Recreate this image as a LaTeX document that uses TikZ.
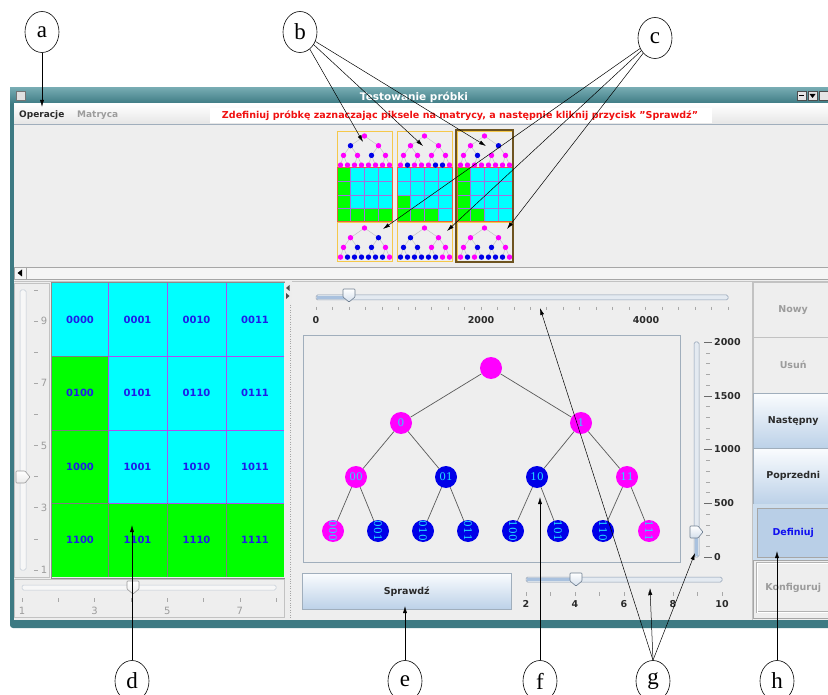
\documentclass[tikz,border=0pt]{standalone}
\usepackage{fontspec}
\setmainfont{DejaVu Sans}
\newfontfamily\letterfont{Liberation Serif}
\newfontfamily\treefont{DejaVu Serif}
\usetikzlibrary{shapes.geometric,arrows.meta}

\definecolor{winteal}{HTML}{3D7A83}
\definecolor{winteallt}{HTML}{75AAB1}
\definecolor{panelbg}{HTML}{EEEEEE}
\definecolor{cy}{HTML}{00FFFF}
\definecolor{gg}{HTML}{00FF00}
\definecolor{gridpurple}{HTML}{B04CF0}
\definecolor{gridgrey}{HTML}{7E7E7E}
\definecolor{celltext}{HTML}{1E1EE8}
\definecolor{mg}{HTML}{FF00FF}
\definecolor{bl}{HTML}{0000E8}
\definecolor{nodetext}{HTML}{22DDFF}
\definecolor{edgegrey}{HTML}{5A5A5A}
\definecolor{miniedgec}{HTML}{C4C4C4}
\definecolor{thumbyellow}{HTML}{F5C84A}
\definecolor{thumbred}{HTML}{E8603C}
\definecolor{thumbsel}{HTML}{6E5420}
\definecolor{thumbline}{HTML}{A070E0}
\definecolor{trackfill}{HTML}{E4EAF1}
\definecolor{trackdraw}{HTML}{8C9CB0}
\definecolor{trackblue}{HTML}{A9C1DE}
\definecolor{frameblue}{HTML}{A0AEBC}
\definecolor{btntop}{HTML}{FAFCFE}
\definecolor{btnbot}{HTML}{BCD1E8}
\definecolor{btnsel}{HTML}{B9CFE7}
\definecolor{btnselbg}{HTML}{CCDDEE}
\definecolor{greytext}{HTML}{9C9C9C}
\definecolor{darktext}{HTML}{2A2A2A}
\definecolor{deftext}{HTML}{1010F0}
\definecolor{menured}{HTML}{F01010}
\definecolor{tickc}{HTML}{A8A8A8}
\definecolor{knobdraw}{HTML}{6E7E90}
\definecolor{knobbot}{HTML}{D4DFEC}
\definecolor{sepgrey}{HTML}{C2C2C2}

\tikzset{
  letter/.style={ellipse, draw, line width=0.6pt, minimum width=34pt, minimum height=41pt,
    inner sep=0pt, fill=white, font=\letterfont\fontsize{23}{23}\selectfont},
  callout/.style={line width=0.5pt, -{Latex[length=7pt,width=4pt]}},
  celllab/.style={font=\bfseries\fontsize{10}{10}\selectfont, text=celltext},
  tnode/.style={circle, minimum size=22pt, inner sep=0pt, text=nodetext,
    font=\treefont\fontsize{10.5}{10.5}\selectfont},
  leaf/.style={tnode, rotate=-90},
  tedge/.style={edgegrey, line width=0.7pt},
  miniedge/.style={draw=miniedgec, line width=0.5pt},
  ticklab/.style={font=\bfseries\fontsize{9.5}{9.5}\selectfont, text=darktext, inner sep=0pt},
  offlab/.style={font=\fontsize{10}{10}\selectfont, text=greytext, inner sep=0pt},
  tickmark/.style={draw=tickc, line width=0.5pt},
  track/.style={draw=trackdraw, fill=trackfill, line width=0.5pt, rounded corners=1.5pt},
  knob/.style={draw=knobdraw, line width=0.6pt, top color=white, bottom color=knobbot,
    rounded corners=0.8pt},
  btnlab/.style={font=\bfseries\fontsize{9.5}{9.5}\selectfont, inner sep=0pt},
  plainbtn/.style={draw=sepgrey, fill=panelbg, anchor=north west, minimum width=80pt,
    text=greytext, btnlab},
  bluebtn/.style={draw=frameblue, top color=btntop, bottom color=btnbot, anchor=north west,
    minimum width=80pt, text=darktext, btnlab},
}

% small binary tree of the sample previews
\newcommand\minitree[6]{%
  \foreach \i in {0,1}
    \draw[miniedge] ({#1+27.5},{#2}) -- ({#1+13.5+28*\i},{#2+9.7});
  \foreach \i in {0,...,3}
    \draw[miniedge] ({#1+13.5+28*floor(\i/2)},{#2+9.7}) -- ({#1+6.5+14*\i},{#2+19.4});
  \foreach \i in {0,...,7}
    \draw[miniedge] ({#1+6.5+14*floor(\i/2)},{#2+19.4}) -- ({#1+3.5+7*\i},{#2+29.1});
  \fill[#3] ({#1+27.5},{#2}) circle (2.7pt);
  \foreach \cc [count=\i from 0] in {#4}
    \fill[\cc] ({#1+13.5+28*\i},{#2+9.7}) circle (2.7pt);
  \foreach \cc [count=\i from 0] in {#5}
    \fill[\cc] ({#1+6.5+14*\i},{#2+19.4}) circle (2.7pt);
  \foreach \cc [count=\i from 0] in {#6}
    \fill[\cc] ({#1+3.5+7*\i},{#2+29.1}) circle (2.7pt);
}

% one sample preview: frames and the 4x4 pixel matrix
\newcommand\thumbnail[2]{%
  \draw[thumbyellow, line width=0.8pt] (#1,131) rectangle ({#1+55},168);
  \draw[thumbyellow, line width=0.8pt] (#1,222) rectangle ({#1+55},261);
  \foreach \cc [count=\k from 0] in {#2} {
    \pgfmathtruncatemacro\rw{\k/4}
    \pgfmathtruncatemacro\cl{\k-4*\rw}
    \fill[\cc] ({#1+13.75*\cl},{168+13.5*\rw}) rectangle ++(13.75,13.5);
  }
  \foreach \i in {1,2,3} {
    \draw[thumbline, line width=0.9pt] ({#1+13.75*\i},168) -- ({#1+13.75*\i},222);
    \draw[thumbline, line width=0.9pt] (#1,{168+13.5*\i}) -- ({#1+55},{168+13.5*\i});
  }
  \draw[thumbred, line width=1pt] (#1,168) rectangle ({#1+55},222);
}

\begin{document}
\begin{tikzpicture}[x=1pt,y=-1pt]
\useasboundingbox[fill=white] (0,0) rectangle (828,695);

% ---------- window frame, title bar, menu ----------
\fill[winteal, rounded corners=3pt] (10,88) rectangle (840,628);
\fill[top color=winteallt, bottom color=winteal] (10,88) rectangle (828,104);
\fill[panelbg] (14,104) rectangle (828,620);
\draw[fill=black!12, draw=black!55] (16,91) rectangle (25,100);
\node[text=white, font=\bfseries\fontsize{10.5}{10.5}\selectfont, inner sep=0pt] (title) at (414,97) {Testowanie próbki};
\foreach \xx in {797,808,819}
  \draw[fill=white!90!black, draw=black!70] (\xx,91) rectangle ++(9,9);
\fill[black] (799,95) rectangle (804,96.5);
\fill[black] (809.5,94) -- (815.5,94) -- (812.5,98) -- cycle;

\fill[top color=white, bottom color=black!10] (14,104) rectangle (828,124);
\node[anchor=west, font=\bfseries\fontsize{9}{9}\selectfont, text=darktext, inner sep=0pt] (menuop) at (19,115) {Operacje};
\node[anchor=west, font=\bfseries\fontsize{9}{9}\selectfont, text=greytext, inner sep=0pt] (menumat) at (77,115) {Matryca};
\fill[white] (210,108) rectangle (712,123);
\node[text=menured, inner sep=0pt] (hint) at (460,115.5)
  {\resizebox{476pt}{!}{\bfseries Zdefiniuj próbkę zaznaczając piksele na matrycy, a następnie kliknij przycisk "Sprawdź"}};
\draw[frameblue] (14,124.5) -- (828,124.5);

% ---------- sample previews ----------
\thumbnail{337}{gg,cy,cy,cy, gg,cy,cy,cy, gg,cy,cy,cy, gg,gg,gg,gg}
\thumbnail{397}{cy,cy,cy,cy, cy,cy,cy,cy, gg,cy,cy,cy, gg,gg,gg,cy}
\thumbnail{457}{gg,cy,cy,cy, gg,cy,cy,cy, gg,cy,cy,cy, gg,gg,cy,cy}
\draw[thumbsel, line width=1.3pt] (456,130) rectangle (513,262);
\minitree{337}{136}{mg}{bl,mg}{mg,mg,bl,mg}{mg,mg,mg,mg,mg,mg,mg,mg}
\minitree{397}{136}{mg}{mg,mg}{mg,mg,mg,mg}{mg,bl,mg,mg,mg,bl,bl,mg}
\minitree{457}{136}{mg}{mg,bl}{mg,bl,mg,mg}{mg,mg,mg,mg,mg,mg,mg,mg}
\minitree{337}{228}{mg}{mg,bl}{mg,bl,bl,mg}{mg,bl,bl,bl,bl,bl,bl,mg}
\minitree{397}{228}{mg}{bl,mg}{bl,bl,mg,mg}{bl,bl,bl,bl,bl,bl,mg,mg}
\minitree{457}{228}{mg}{mg,mg}{mg,bl,bl,mg}{mg,bl,mg,bl,bl,bl,bl,mg}

% ---------- horizontal scroll bar ----------
\draw[fill=black!4, draw=black!35] (14,267) rectangle (830,279);
\draw[black!35] (26,267) -- (26,279);
\fill[black] (17.5,273) -- (22,269.5) -- (22,276.5) -- cycle;
\draw[sepgrey] (14,281) -- (828,281);

% ---------- left vertical slider ----------
\draw[sepgrey] (14,283) rectangle (49,577);
\draw[track, draw=trackdraw!55, fill=black!3] (20,290) rectangle (26,570);
\foreach \k in {0,...,9}
  \draw[tickmark] (34,{290+31.1*\k}) -- ++(4,0);
\foreach \k/\lab in {1/9,3/7,5/5,7/3,9/1}
  \node[offlab] (lv\lab) at (44,{290+31.1*\k}) {\lab};
\draw[knob, draw=black!40, bottom color=black!8] (16,471) -- (25,471) -- (30,477) -- (25,483) -- (16,483) -- cycle;

% ---------- pixel matrix ----------
\draw[black!45] (51,282) rectangle (285,578);
\foreach \xa/\xb/\ya/\yb/\lab/\cc in {
  52/108/283/356/0000/cy, 108/167/283/356/0001/cy, 167/226/283/356/0010/cy, 226/284/283/356/0011/cy,
  52/108/356/430/0100/gg, 108/167/356/430/0101/cy, 167/226/356/430/0110/cy, 226/284/356/430/0111/cy,
  52/108/430/503/1000/gg, 108/167/430/503/1001/cy, 167/226/430/503/1010/cy, 226/284/430/503/1011/cy,
  52/108/503/577/1100/gg, 108/167/503/577/1101/gg, 167/226/503/577/1110/gg, 226/284/503/577/1111/gg} {
  \fill[\cc] (\xa,\ya) rectangle (\xb,\yb);
  \node[celllab] (cell\lab) at ({(\xa+\xb)/2},{(\ya+\yb)/2}) {\lab};
}
\foreach \xx in {108,167,226}
  \draw[gridpurple, line width=0.9pt] (\xx,283) -- (\xx,577);
\foreach \yy in {356,430,503}
  \draw[gridpurple, line width=0.9pt] (52,\yy) -- (284,\yy);
\draw[gridgrey, line width=0.9pt] (52,430) -- (108,430) (52,503) -- (108,503);
\foreach \xx in {108,167,226}
  \draw[gridgrey, line width=0.9pt] (\xx,503) -- (\xx,577);
\draw[gridgrey, line width=0.9pt] (52,356) -- (108,356);

% ---------- bottom-left horizontal slider ----------
\draw[sepgrey] (14,579) rectangle (284,617);
\draw[track, draw=trackdraw!55, fill=black!3] (22,585) rectangle (276,590);
\foreach \k in {0,...,7}
  \draw[tickmark] ({22+36.3*\k},598) -- ++(0,4);
\foreach \k/\lab in {0/1,2/3,4/5,6/7}
  \node[offlab] (lh\lab) at ({22+36.3*\k},611) {\lab};
\draw[knob, draw=black!40, bottom color=black!8] (127,581) -- (139,581) -- (139,589) -- (133,594) -- (127,589) -- cycle;

% ---------- split pane divider ----------
\fill[black!7] (285,281) rectangle (292,620);
\draw[black!35, dotted] (290,305) -- (290,618);
\fill[black!70] (286,288) -- (289.5,285) -- (289.5,291) -- cycle;
\fill[black!70] (289.5,296) -- (286,293) -- (286,299) -- cycle;

% ---------- threshold slider (top) ----------
\draw[track] (316,295) rectangle (728,300);
\fill[trackblue] (317,295.6) rectangle (349,299.4);
\foreach \k in {0,...,25}
  \draw[tickmark] ({316+16.48*\k},307) -- ++(0,3);
\node[ticklab] (ht0) at (316,320) {0};
\node[ticklab] (ht2) at (481,320) {2000};
\node[ticklab] (ht4) at (646,320) {4000};
\draw[knob] (343,289) -- (355,289) -- (355,297) -- (349,302) -- (343,297) -- cycle;

% ---------- tree view ----------
\draw[frameblue, line width=1pt] (303,336) rectangle (680,562);
\node[tnode, fill=mg] (root) at (491,368) {};
\node[tnode, fill=mg] (n0) at (401,423) {0};
\node[tnode, fill=mg] (n1) at (581,423) {1};
\node[tnode, fill=mg] (n00) at (356,477) {00};
\node[tnode, fill=bl] (n01) at (446,477) {01};
\node[tnode, fill=bl] (n10) at (537,477) {10};
\node[tnode, fill=mg] (n11) at (627,477) {11};
\foreach \nm/\xx/\cc in {000/333/mg,001/378/bl,010/423/bl,011/468/bl,100/513/bl,101/558/bl,110/603/bl,111/649/mg}
  \node[leaf, fill=\cc] (n\nm) at (\xx,531) {\nm};
\foreach \a/\b in {root/n0,root/n1,n0/n00,n0/n01,n1/n10,n1/n11,
                   n00/n000,n00/n001,n01/n010,n01/n011,n10/n100,n10/n101,n11/n110,n11/n111}
  \draw[tedge] (\a) -- (\b);

% ---------- vertical slider beside the tree ----------
\draw[track] (694,342) rectangle (699,557);
\fill[trackblue] (694.6,532) rectangle (698.4,556.4);
\foreach \k in {0,...,20}
  \draw[tickmark] (706,{557-10.75*\k}) -- ++(4,0);
\foreach \k in {0,5,...,20}
  \draw[draw=darktext!70, line width=0.5pt] (704,{557-10.75*\k}) -- ++(8,0);
\foreach \k/\lab in {0/0,5/500,10/1000,15/1500,20/2000}
  \node[ticklab, anchor=west] (vt\lab) at (714,{557-10.75*\k}) {\lab};
\draw[knob] (690,526) -- (698,526) -- (703,532) -- (698,538) -- (690,538) -- cycle;

% ---------- check button and lower slider ----------
\node[draw=frameblue, top color=btntop, bottom color=btnbot, anchor=north west,
      minimum width=209pt, minimum height=36pt, text=darktext, btnlab] (sprawdz) at (302,573) {Sprawdź};
\draw[track] (526,577) rectangle (722,582);
\fill[trackblue] (526.6,577.6) rectangle (576,581.4);
\foreach \k in {0,...,8}
  \draw[tickmark] ({526+24.5*\k},592) -- ++(0,4);
\foreach \k/\lab in {0/2,2/4,4/6,6/8,8/10}
  \node[ticklab] (bt\lab) at ({526+24.5*\k},604) {\lab};
\draw[knob] (570,573) -- (582,573) -- (582,581) -- (576,586) -- (570,581) -- cycle;

% ---------- button column ----------
\draw[sepgrey] (752,281) -- (752,620);
\node[plainbtn, minimum height=55pt] (nowy) at (753,282) {Nowy};
\node[plainbtn, minimum height=56pt] (usun) at (753,337) {Usuń};
\node[bluebtn, minimum height=55pt] (nastepny) at (753,393) {Następny};
\node[bluebtn, minimum height=56pt] (poprzedni) at (753,448) {Poprzedni};
\fill[btnselbg] (753,504) rectangle (830,560);
\node[draw=black!35, fill=btnsel, anchor=north west, minimum width=76pt, minimum height=49pt,
      text=deftext, btnlab] (definiuj) at (757,508) {\hspace*{-4pt}Definiuj};
\draw[black!35] (753,560) rectangle (830,618);
\node[draw=black!30, double=white, double distance=0.8pt, fill=panelbg, anchor=north west,
      minimum width=76pt, minimum height=49pt, text=greytext, btnlab] (konfig) at (757,563) {\hspace*{-4pt}Konfiguruj};

% ---------- callout labels ----------
\node[letter] (la) at (42,32) {a};
\node[letter] (lb) at (300,32) {b};
\node[letter] (lc) at (655,38) {c};
\node[letter] (ld) at (132,681) {d};
\node[letter] (le) at (405,681) {e};
\node[letter] (lf) at (540,681) {f};
\node[letter] (lg) at (653,681) {g};
\node[letter] (lh) at (777,681) {h};

\coordinate (ta) at (42,107);
\coordinate (tb1) at (363,142);
\coordinate (tb2) at (423,146);
\coordinate (tb3) at (486,146);
\coordinate (tc1) at (383,229);
\coordinate (tc2) at (447,231);
\coordinate (tc3) at (507,229);
\coordinate (td) at (132,525);
\coordinate (te) at (405,606);
\coordinate (tf) at (540,497);
\coordinate (tg1) at (540,308);
\coordinate (tg2) at (650,588);
\coordinate (tg3) at (695,553);
\coordinate (th) at (777,551);

\draw[callout] (la) -- (ta);
\foreach \t in {tb1,tb2,tb3} \draw[callout] (lb) -- (\t);
\foreach \t in {tc1,tc2,tc3} \draw[callout] (lc) -- (\t);
\draw[callout] (ld) -- (td);
\draw[callout] (le) -- (te);
\draw[callout] (lf) -- (tf);
\foreach \t in {tg1,tg2,tg3} \draw[callout] (lg.north) -- (\t);
\draw[callout] (lh) -- (th);
\end{tikzpicture}
\end{document}
